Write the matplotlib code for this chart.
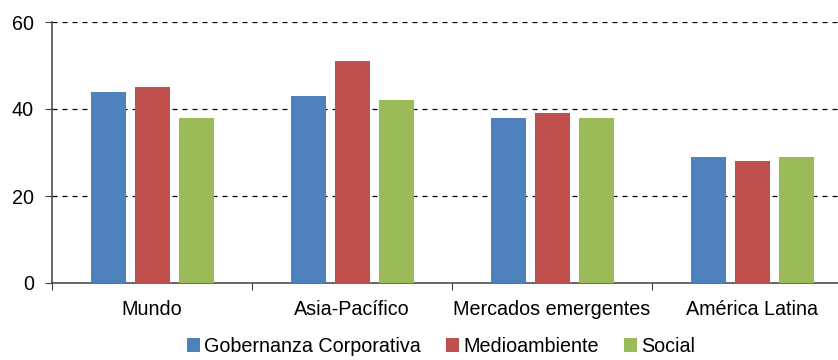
import numpy as np
import matplotlib.pyplot as plt

# Data
regions = ["Mundo", "Asia-Pacífico", "Mercados emergentes", "América Latina"]
series_names = ["Gobernanza Corporativa", "Medioambiente", "Social"]
gobernanza = [44, 43, 38, 29]
medioambiente = [45, 51, 39, 28]
social = [38, 42, 38, 29]
colors = ["#4F81BD", "#C0504D", "#9BBB59"]

plt.rcParams["font.family"] = ["Liberation Sans", "DejaVu Sans"]
plt.rcParams["font.size"] = 14.2

fig = plt.figure(figsize=(8.38, 3.6), dpi=100)
# axes runs a little past the right edge, as in the original layout
ax = fig.add_axes([52 / 838, 77 / 360, 800 / 838, 261 / 360])

x = np.arange(len(regions)) + 0.5
width = 0.175
step = 0.22
for i, (vals, name) in enumerate(zip([gobernanza, medioambiente, social], series_names)):
    ax.bar(x + (i - 1) * step, vals, width, color=colors[i], label=name, zorder=3)

ax.set_xlim(0, len(regions))
ax.set_ylim(0, 60)
ax.set_yticks([0, 20, 40, 60])
ax.set_xticks(np.arange(len(regions) + 1))
ax.set_xticklabels([])
ax.set_xticks(x, minor=True)
ax.set_xticklabels(regions, minor=True)
ax.tick_params(axis="x", which="minor", length=0, pad=12)
ax.tick_params(axis="x", which="major", length=5, direction="out", color="#404040")
ax.tick_params(axis="y", length=5, pad=8, color="#404040")

ax.yaxis.grid(True, color="black", linestyle=(0, (4, 4)), linewidth=0.9, zorder=0)
ax.set_axisbelow(True)
for side in ["top", "right"]:
    ax.spines[side].set_visible(False)
for side in ["left", "bottom"]:
    ax.spines[side].set_color("#404040")
    ax.spines[side].set_linewidth(1.1)

fig.legend(loc="upper center", bbox_to_anchor=(441 / 838, 23 / 360), ncol=3,
           frameon=False, handlelength=0.65, handleheight=0.65,
           handletextpad=0.2, columnspacing=1.3, borderaxespad=0, borderpad=0)

fig.savefig("out.png", dpi=100)
